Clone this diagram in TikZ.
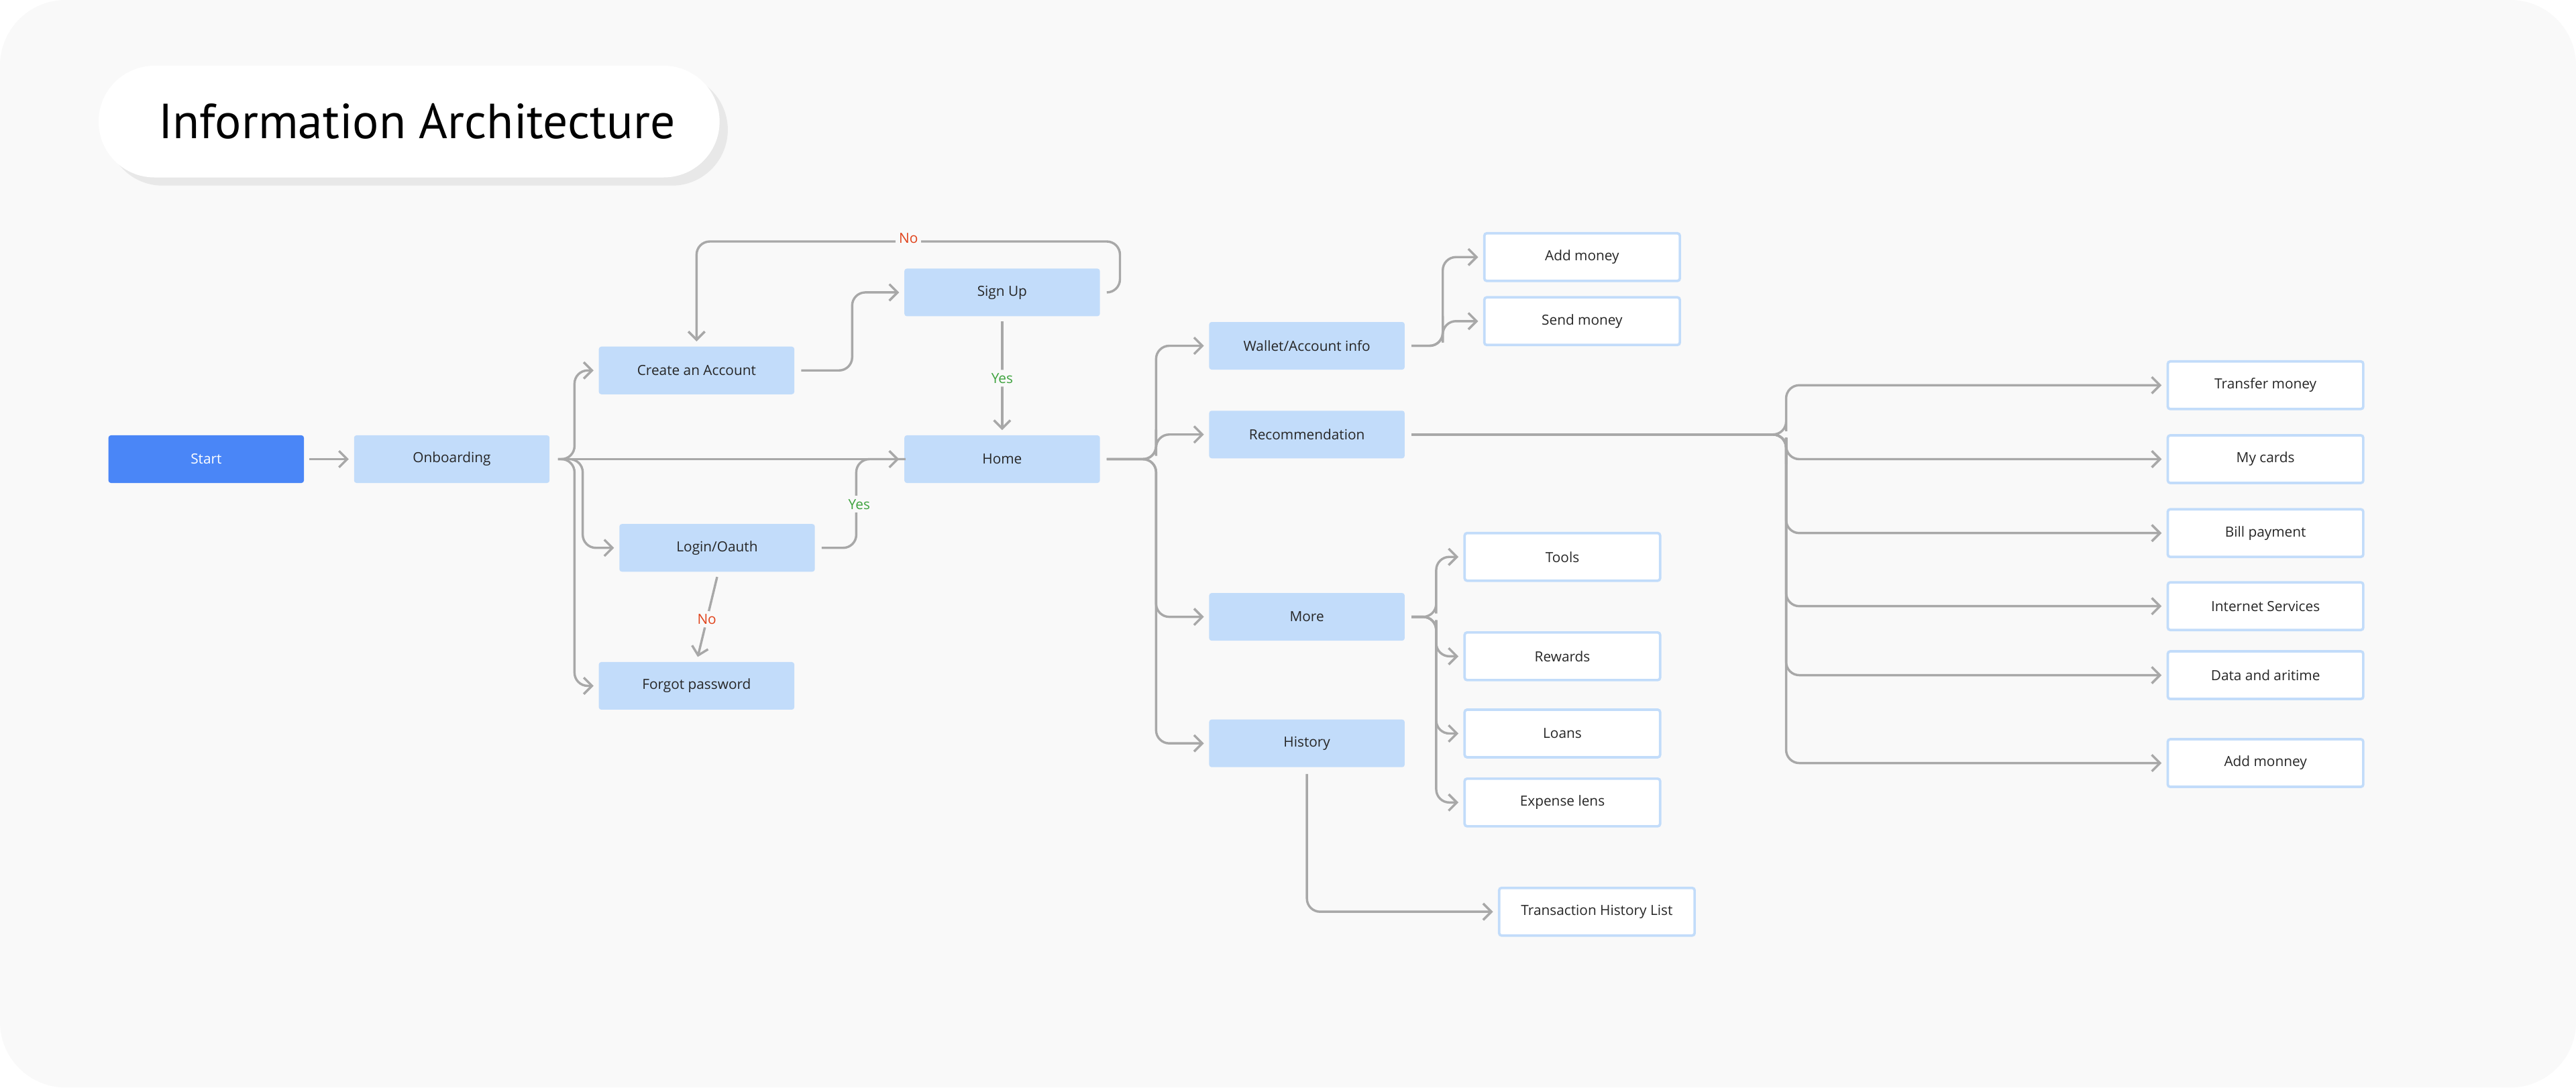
\documentclass[tikz,border=0pt]{standalone}
\usepackage{fontspec}
\setmainfont{Open Sans}
\newfontfamily\titlefont{PT Sans}
\usetikzlibrary{arrows.meta,positioning}
\definecolor{cardbg}{HTML}{F9F9F9}
\definecolor{boxblue}{HTML}{C2DCFA}
\definecolor{startblue}{HTML}{4A86F7}
\definecolor{linegray}{HTML}{A8A8A8}
\definecolor{noRed}{HTML}{E0431B}
\definecolor{yesGreen}{HTML}{3FA33F}
\tikzset{
  box/.style={rectangle, rounded corners=1.5pt, fill=boxblue, minimum width=119pt, minimum height=29pt, font=\fontsize{8.5}{10}\selectfont, text=black!85},
  outbox/.style={box, fill=white, draw=boxblue, line width=1.5pt},
  startbox/.style={box, fill=startblue, text=white},
  conn/.style={draw=linegray, line width=1.4pt, rounded corners=8pt, -{Straight Barb[length=5pt,width=10pt]}, shorten >=3pt},
  plain/.style={draw=linegray, line width=1.4pt, rounded corners=8pt},
  lbl/.style={fill=cardbg, inner sep=2pt, font=\fontsize{8.5}{10}\selectfont}
}
\begin{document}
\begin{tikzpicture}[x=1pt,y=1pt,yscale=-1]
\useasboundingbox (0,0) rectangle (1568,662);
\fill[white] (0,0) rectangle (1568,662);
\fill[cardbg, rounded corners=40pt] (0,0) rectangle (1568,662);

% title
\fill[black!9, rounded corners=34pt] (65,45) rectangle (443,113);
\fill[white, rounded corners=34pt] (60,40) rectangle (438,108);
\node[anchor=west, font=\titlefont\fontsize{30}{34}\selectfont] (title) at (93,74) {Information Architecture};

% left part
\node[startbox] (start) at (125.5,279.5) {Start};
\node[box] (onb) at (275,279.5) {Onboarding};
\node[box] (create) at (424,225.5) {Create an Account};
\node[box] (login) at (436.5,333.5) {Login/Oauth};
\node[box] (forgot) at (424,417.5) {Forgot password};
\node[box] (signup) at (610,178) {Sign Up};
\node[box] (home) at (610,279.5) {Home};

% second level
\node[box] (wallet) at (795.5,210.5) {Wallet/Account info};
\node[box] (recom) at (795.5,264.5) {Recommendation};
\node[box] (more) at (795.5,375.5) {More};
\node[box] (hist) at (795.5,452.5) {History};

\node[outbox] (addm) at (963,156.5) {Add money};
\node[outbox] (sendm) at (963,195.5) {Send money};
\node[outbox] (tools) at (951,339) {Tools};
\node[outbox] (rewards) at (951,399.5) {Rewards};
\node[outbox] (loans) at (951,446.5) {Loans};
\node[outbox] (expense) at (951,488.5) {Expense lens};
\node[outbox] (trans) at (972,555) {Transaction History List};

\node[outbox] (transfer) at (1379,234.5) {Transfer money};
\node[outbox] (cards) at (1379,279.5) {My cards};
\node[outbox] (bill) at (1379,324.5) {Bill payment};
\node[outbox] (inet) at (1379,369) {Internet Services};
\node[outbox] (data) at (1379,411) {Data and aritime};
\node[outbox] (addmm) at (1379,464.5) {Add monney};

% connectors
\draw[conn, shorten <=3pt] (start) -- (onb);
\draw[conn] ([xshift=5pt]onb.east) -| ++(10,-20) |- (create.west);
\draw[conn] ([xshift=5pt]onb.east) -| ++(10,20) |- (forgot.west);
\draw[conn] ([xshift=5pt]onb.east) -| ++(15,20) |- (login.west);
\draw[conn] ([xshift=5pt]onb.east) -- (home.west);
\draw[conn] ([xshift=4pt]create.east) -| ++(31,-20) |- (signup.west);
\draw[conn] ([xshift=4pt]signup.east) -| ++(8,-31) -| (create.north);
\draw[conn] ([yshift=3pt]signup.south) -- node[lbl, text=yesGreen] (yes1) {Yes} (home.north);
\draw[plain] ([xshift=4pt]login.east) -| ++(21,-54) -- ++(30,0);
\node[lbl, text=yesGreen] (yes2) at (523,307) {Yes};
\draw[conn] ([yshift=3pt]login.south) -- node[lbl, text=noRed] (no2) {No} (forgot.north);
\node[lbl, text=noRed] (no1) at (553,145) {No};

\draw[conn] ([xshift=4pt]home.east) -| ++(30,-20) |- (wallet.west);
\draw[conn] ([xshift=4pt]home.east) -| ++(30,-10) |- (recom.west);
\draw[conn] ([xshift=4pt]home.east) -| ++(30,20) |- (more.west);
\draw[conn] ([xshift=4pt]home.east) -| ++(30,20) |- (hist.west);

\draw[conn] ([xshift=4pt]wallet.east) -| ++(19,-10) |- (addm.west);
\draw[conn] ([xshift=4pt]wallet.east) -| ++(19,-10) |- (sendm.west);

\draw[conn] ([xshift=4pt]recom.east) -| ++(228,-10) |- (transfer.west);
\draw[conn] ([xshift=4pt]recom.east) -| ++(228,10) |- (cards.west);
\draw[conn] ([xshift=4pt]recom.east) -| ++(228,10) |- (bill.west);
\draw[conn] ([xshift=4pt]recom.east) -| ++(228,10) |- (inet.west);
\draw[conn] ([xshift=4pt]recom.east) -| ++(228,10) |- (data.west);
\draw[conn] ([xshift=4pt]recom.east) -| ++(228,10) |- (addmm.west);

\draw[conn] ([xshift=4pt]more.east) -| ++(15,-10) |- (tools.west);
\draw[conn] ([xshift=4pt]more.east) -| ++(15,10) |- (rewards.west);
\draw[conn] ([xshift=4pt]more.east) -| ++(15,10) |- (loans.west);
\draw[conn] ([xshift=4pt]more.east) -| ++(15,10) |- (expense.west);

\draw[conn] ([yshift=4pt]hist.south) |- (trans.west);
\end{tikzpicture}
\end{document}
